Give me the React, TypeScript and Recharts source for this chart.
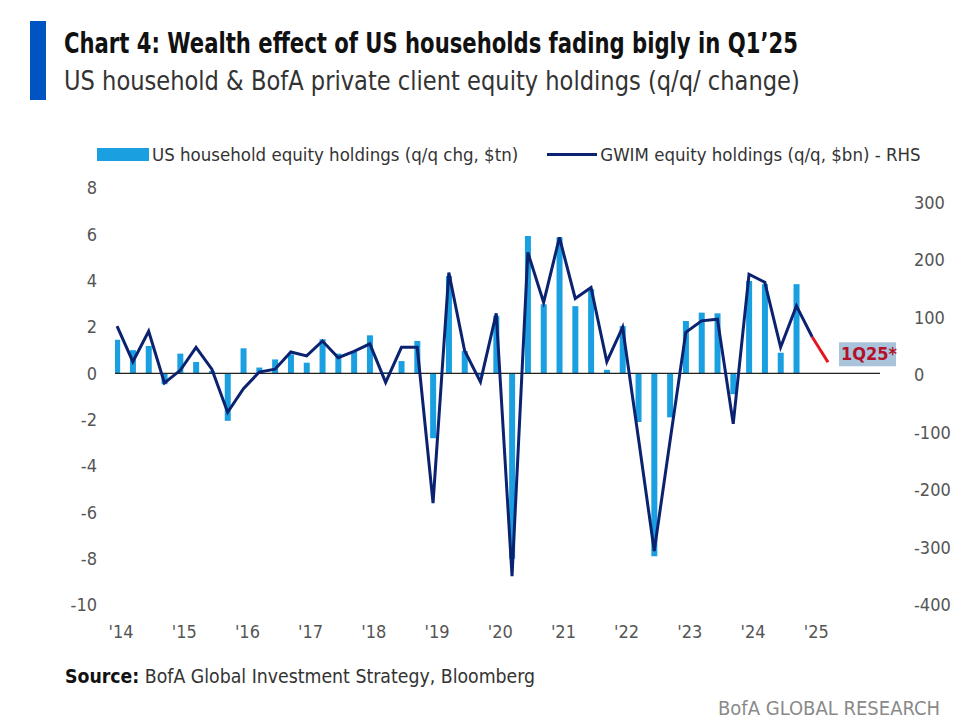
import React from "react"
import {
	ComposedChart,
	Bar,
	Line,
	XAxis,
	YAxis,
	ReferenceLine,
} from "recharts"

// quarterly, 1Q14 .. 2Q25
const quarters = [
	"1Q14", "2Q14", "3Q14", "4Q14", "1Q15", "2Q15", "3Q15", "4Q15",
	"1Q16", "2Q16", "3Q16", "4Q16", "1Q17", "2Q17", "3Q17", "4Q17",
	"1Q18", "2Q18", "3Q18", "4Q18", "1Q19", "2Q19", "3Q19", "4Q19",
	"1Q20", "2Q20", "3Q20", "4Q20", "1Q21", "2Q21", "3Q21", "4Q21",
	"1Q22", "2Q22", "3Q22", "4Q22", "1Q23", "2Q23", "3Q23", "4Q23",
	"1Q24", "2Q24", "3Q24", "4Q24", "1Q25", "2Q25",
]

// US household equity holdings, q/q chg, $tn (LHS)
const householdChg = [
	1.45, 1.0, 1.18, -0.47, 0.85, 0.49, 0.1, -2.05,
	1.08, 0.25, 0.6, 0.82, 0.46, 1.47, 0.85, 0.92,
	1.64, 0.05, 0.53, 1.4, -2.8, 4.2, 0.96, -0.1,
	2.48, -8.0, 5.93, 2.98, 5.87, 2.9, 3.63, 0.15,
	2.04, -2.1, -7.9, -1.9, 2.26, 2.62, 2.59, -0.9,
	3.99, 3.85, 0.89, 3.85,
]

// GWIM equity holdings, q/q, $bn (RHS)
const gwimChg = [
	85, 23, 76, -14, 8, 48, 10, -65,
	-24, 5, 10, 40, 33, 59, 30, 41,
	54, -13, 48, 48, -223, 178, 42, -12,
	107, -350, 213, 126, 239, 133, 152, 23,
	83, -110, -306, -115, 74, 94, 97, -85,
	175, 161, 48, 120, 66,
]

// 1Q25 estimate leg (red)
const gwimEst = [66, 22]
const estStart = 44

const leftTicks = [-10, -8, -6, -4, -2, 0, 2, 4, 6, 8]
const rightTicks = [-400, -300, -200, -100, 0, 100, 200, 300]
const yearTicks = [0, 4, 8, 12, 16, 20, 24, 28, 32, 36, 40, 44]
const yearLabels = ["'14", "'15", "'16", "'17", "'18", "'19", "'20", "'21", "'22", "'23", "'24", "'25"]

const data = quarters.map((q, i) => ({
	i,
	q,
	household: i < householdChg.length ? householdChg[i] : null,
	gwim: i < gwimChg.length ? gwimChg[i] : null,
	est: i >= estStart && i - estStart < gwimEst.length ? gwimEst[i - estStart] : null,
}))

const NARROW = "'DejaVu Sans Condensed', 'Roboto', sans-serif"
const TICK = { fill: "#555", fontSize: 18, fontFamily: NARROW }

const BAR_BLUE = "#1a9fe0"
const NAVY = "#0b2270"

function EstLabel(props: any) {
	const { x, y, index } = props
	if (index !== quarters.length - 1 || x == null) return null
	return (
		<g>
			<rect x={x + 11} y={y - 20} width={57} height={24} fill="#a9c3da" />
			<text x={x + 13} y={y - 2} fill="#b3102a" fontSize={18} fontWeight="bold" fontFamily={NARROW}>
				1Q25*
			</text>
		</g>
	)
}

export default function App() {
	return (
		<div style={{ position: "absolute", left: 0, top: 0, width: 968, height: 721, background: "#fff", overflow: "hidden" }}>
			{/* title block */}
			<div style={{ position: "absolute", left: 30, top: 21, width: 16, height: 79, background: "#0053c3" }} />
			<div style={{ position: "absolute", left: 64, top: 27, fontFamily: NARROW, fontWeight: "bold", fontSize: 28, color: "#111", whiteSpace: "nowrap", transform: "scaleX(0.84)", transformOrigin: "left top" }}>
				Chart 4: Wealth effect of US households fading bigly in Q1’25
			</div>
			<div style={{ position: "absolute", left: 64, top: 65, fontFamily: NARROW, fontSize: 27, color: "#333", whiteSpace: "nowrap", transform: "scaleX(0.93)", transformOrigin: "left top" }}>
				US household &amp; BofA private client equity holdings (q/q/ change)
			</div>

			{/* legend */}
			<div style={{ position: "absolute", left: 97, top: 144, display: "flex", alignItems: "center", fontFamily: NARROW, fontSize: 18.5, color: "#333", whiteSpace: "nowrap" }}>
				<span style={{ display: "inline-block", width: 52, height: 13, background: BAR_BLUE, marginRight: 3 }} />
				<span>US household equity holdings (q/q chg, $tn)</span>
				<span style={{ display: "inline-block", width: 50, height: 3, background: NAVY, marginLeft: 29, marginRight: 3 }} />
				<span>GWIM equity holdings (q/q, $bn) - RHS</span>
			</div>

			<div style={{ position: "absolute", left: 0, top: 0 }}>
				<ComposedChart width={968} height={721} data={data} margin={{ top: 188, right: 0, bottom: 76, left: 0 }}>
					<XAxis
						dataKey="i"
						type="number"
						domain={[-0.13, 48.29]}
						allowDataOverflow
						ticks={yearTicks}
						tickFormatter={(v: number) => yearLabels[v / 4]}
						tick={{ ...TICK, dx: 4 }}
						tickLine={false}
						axisLine={false}
						tickSize={0}
						tickMargin={20}
						height={40}
					/>
					<YAxis
						yAxisId="left"
						orientation="left"
						domain={[-10, 8]}
						ticks={leftTicks}
						tick={TICK}
						tickLine={false}
						axisLine={false}
						tickSize={0}
						tickMargin={18}
						width={115}
					/>
					<YAxis
						yAxisId="right"
						orientation="right"
						domain={[-400, 325]}
						ticks={rightTicks}
						tick={{ ...TICK, textAnchor: "start", dx: 16 }}
						tickLine={false}
						axisLine={false}
						tickSize={0}
						tickMargin={18}
						width={88}
					/>
					<Bar yAxisId="left" dataKey="household" fill={BAR_BLUE} barSize={6} isAnimationActive={false} />
					<ReferenceLine yAxisId="left" y={0} stroke="#222" strokeWidth={1.2} />
					<Line
						yAxisId="right"
						dataKey="gwim"
						type="linear"
						stroke={NAVY}
						strokeWidth={3}
						dot={false}
						connectNulls={false}
						isAnimationActive={false}
					/>
					<Line
						yAxisId="right"
						dataKey="est"
						type="linear"
						stroke="#e5141e"
						strokeWidth={3}
						dot={false}
						label={<EstLabel />}
						isAnimationActive={false}
					/>
				</ComposedChart>
			</div>

			{/* source + footer */}
			<div style={{ position: "absolute", left: 65, top: 665, fontFamily: NARROW, fontSize: 19.3, color: "#333", whiteSpace: "nowrap" }}>
				<b style={{ color: "#111" }}>Source:</b> BofA Global Investment Strategy, Bloomberg
			</div>
			<div style={{ position: "absolute", left: 718, top: 696, fontFamily: NARROW, fontSize: 20, color: "#8a8a8a", whiteSpace: "nowrap" }}>
				BofA GLOBAL RESEARCH
			</div>
		</div>
	)
}
